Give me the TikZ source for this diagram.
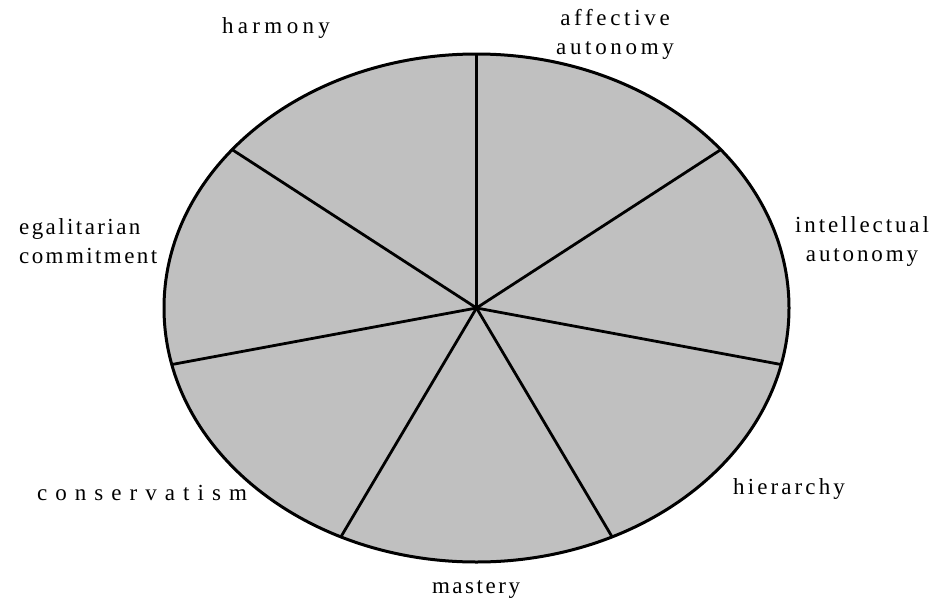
\documentclass[tikz,border=0pt]{standalone}
\usepackage{fontspec}
\setmainfont{Liberation Serif}
\definecolor{piefill}{RGB}{192,192,192}
\begin{document}
\begin{tikzpicture}[x=1pt,y=1pt,
  lbl/.style={font=\fontsize{23}{29}\selectfont\addfontfeature{LetterSpace=#1}, align=center, inner sep=0pt},
  spoke/.style={line width=2.8pt},
  rim/.style={line width=3pt, fill=piefill}]
\useasboundingbox (0,0) rectangle (929,-605);
\coordinate (o) at (476.5,-308);
\draw[rim] (o) ellipse [x radius=312.5pt, y radius=254pt];
\begin{scope}[shift={(o)}]
\foreach \a [count=\i] in {90,38.571,-12.857,-64.286,-115.714,-167.143,141.429}
  \coordinate (p\i) at (\a:312.5pt and 254pt);
\end{scope}
\foreach \i in {1,...,7} \draw[spoke] (o) -- (p\i);
\node[lbl=19] (harm) at (276,-28) {harmony};
\node[lbl=16] (aff) at (615,-34) {affective\\autonomy};
\node[lbl=12.5] (int) at (862,-241) {intellectual\\autonomy};
\node[lbl=10.5, align=left, anchor=west] (ega) at (19,-241) {egalitarian\\commitment};
\node[lbl=35] (cons) at (142,-493) {conservatism};
\node[lbl=13.5] (hier) at (789,-489) {hierarchy};
\node[lbl=11] (mast) at (476,-590) {mastery};
\end{tikzpicture}
\end{document}
